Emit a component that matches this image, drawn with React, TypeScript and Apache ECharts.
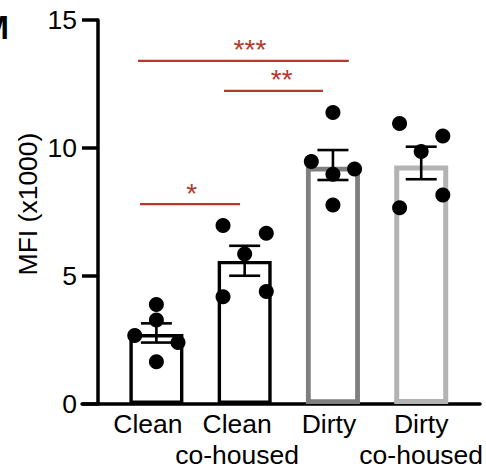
import React, { useEffect, useRef } from "react";
import * as echarts from "echarts";

const categories = ["Clean", "Clean\nco-housed", "Dirty", "Dirty\nco-housed"];
const means = [2.73, 5.59, 9.27, 9.32];
const semLow = [2.4, 5.01, 8.75, 8.78];
const semHigh = [3.15, 6.18, 9.92, 10.05];

const cleanPts = [3.89, 3.28, 2.68, 2.4, 1.65];
const cleanCoPts = [6.97, 6.67, 5.86, 4.19, 4.39];
const dirtyPts = [11.39, 9.47, 9.18, 8.97, 7.77];
const dirtyCoPts = [10.96, 10.47, 9.86, 8.16, 7.67];

const cleanJitter = [0, 0, -0.245, 0.245, 0];
const cleanCoJitter = [-0.245, 0.245, 0, -0.245, 0.245];
const dirtyJitter = [0, -0.245, 0.245, 0, 0];
const dirtyCoJitter = [-0.245, 0.245, 0, 0.245, -0.245];

const yTicks = [0, 5, 10, 15];

// significance brackets: [x start, x end, y level, star x, label]
const sigFrom = [-0.186, -0.208, 0.766];
const sigTo = [0.947, 2.18, 1.887];
const sigLevel = [7.81, 13.4, 12.23];
const sigStarX = [0.4, 1.06, 1.42];
const sigLabels = ["*", "***", "**"];

const FONT = "'Liberation Sans', Arial, Helvetica, sans-serif";
const RED = "#b2392b";
const barBorder = ["#000000", "#000000", "#7f7f7f", "#b3b3b3"];
const barBorderW = [3.4, 3.4, 4.8, 5];
const labelShift = [17, 15, 8, 0];

export default function App() {
  const ref = useRef<HTMLDivElement>(null);
  useEffect(() => {
    if (!ref.current) return;
    const chart = echarts.init(ref.current, null, { renderer: "svg" });

    const groups = [cleanPts, cleanCoPts, dirtyPts, dirtyCoPts];
    const jitters = [cleanJitter, cleanCoJitter, dirtyJitter, dirtyCoJitter];
    const points: number[][] = [];
    groups.forEach((g, i) => g.forEach((v, j) => points.push([i + jitters[i][j], v])));

    const rich: any = {};
    labelShift.forEach((s, i) => {
      rich["p" + i] = {
        fontSize: 26.5,
        fontFamily: FONT,
        color: "#000",
        lineHeight: 31,
        padding: [0, s, 0, 0],
      };
    });

    const option: any = {
      animation: false,
      backgroundColor: "#ffffff",
      grid: [
        { left: 112.25, right: 20.65, top: 20, bottom: 67, outerBoundsMode: "none", containLabel: false },
        { left: 82, right: 6, top: 20, bottom: 67, outerBoundsMode: "none", containLabel: false },
      ],
      xAxis: [
        {
          type: "category",
          gridIndex: 0,
          data: categories,
          axisLine: { show: false, onZero: false },
          axisTick: { show: false },
          axisLabel: {
            margin: 4,
            interval: 0,
            formatter: (v: string, idx: number) =>
              v.split("\n").map((l) => `{p${idx}|${l}}`).join("\n"),
            rich,
          },
        },
        {
          type: "value",
          gridIndex: 0,
          min: -0.5,
          max: 3.5,
          show: false,
          axisLine: { onZero: false },
        },
        {
          type: "value",
          gridIndex: 1,
          min: 0,
          max: 1,
          axisLine: { show: true, onZero: false, lineStyle: { color: "#000", width: 3.5 } },
          axisTick: { show: false },
          axisLabel: { show: false },
          splitLine: { show: false },
        },
      ],
      yAxis: [
        {
          type: "value",
          gridIndex: 0,
          min: yTicks[0],
          max: yTicks[yTicks.length - 1],
          interval: 5,
          offset: 14.25,
          axisLine: { show: true, onZero: false, lineStyle: { color: "#000", width: 3.5 } },
          axisTick: { show: true, length: 16, lineStyle: { color: "#000", width: 3.5 } },
          axisLabel: { fontSize: 26.5, fontFamily: FONT, color: "#000", margin: 21 },
          splitLine: { show: false },
        },
        { type: "value", gridIndex: 1, show: false, min: 0, max: 1, axisLine: { onZero: false } },
      ],
      graphic: [
        {
          type: "text",
          x: 27.5,
          y: 204,
          rotation: Math.PI / 2,
          style: {
            text: "MFI (x1000)",
            fontSize: 26.5,
            fontFamily: FONT,
            fill: "#000",
            align: "center",
            verticalAlign: "middle",
          },
        },
        {
          type: "text",
          x: -18.5,
          y: 27,
          style: {
            text: "M",
            fontSize: 33,
            fontWeight: "bold",
            fontFamily: FONT,
            fill: "#000",
            align: "left",
            verticalAlign: "middle",
          },
        },
      ],
      series: [
        {
          type: "bar",
          xAxisIndex: 0,
          yAxisIndex: 0,
          barWidth: 54,
          z: 2,
          data: means.map((m, i) => ({
            value: m,
            itemStyle: {
              color: "#ffffff",
              borderColor: barBorder[i],
              borderWidth: barBorderW[i],
            },
          })),
        },
        {
          type: "custom",
          xAxisIndex: 1,
          yAxisIndex: 0,
          z: 3,
          data: means.map((_, i) => [i, semLow[i], semHigh[i]]),
          renderItem: (params: any, api: any) => {
            const lo = api.coord([api.value(0), api.value(1)]);
            const hi = api.coord([api.value(0), api.value(2)]);
            const hw = 15.5;
            const st = { stroke: "#000", lineWidth: 2.6 };
            return {
              type: "group",
              children: [
                { type: "line", shape: { x1: lo[0], y1: lo[1], x2: hi[0], y2: hi[1] }, style: st },
                { type: "line", shape: { x1: lo[0] - hw, y1: lo[1], x2: lo[0] + hw, y2: lo[1] }, style: st },
                { type: "line", shape: { x1: hi[0] - hw, y1: hi[1], x2: hi[0] + hw, y2: hi[1] }, style: st },
              ],
            };
          },
        },
        {
          type: "scatter",
          xAxisIndex: 1,
          yAxisIndex: 0,
          z: 4,
          symbol: "circle",
          symbolSize: 15,
          itemStyle: { color: "#000", opacity: 1 },
          data: points,
        },
        {
          type: "custom",
          xAxisIndex: 1,
          yAxisIndex: 0,
          z: 5,
          clip: false,
          data: sigLabels.map((l, i) => [sigFrom[i], sigTo[i], sigLevel[i], sigStarX[i], l]),
          renderItem: (params: any, api: any) => {
            const a = api.coord([api.value(0), api.value(2)]);
            const b = api.coord([api.value(1), api.value(2)]);
            const s = api.coord([api.value(3), api.value(2)]);
            const label = sigLabels[params.dataIndex];
            return {
              type: "group",
              children: [
                {
                  type: "line",
                  shape: { x1: a[0], y1: a[1], x2: b[0], y2: b[1] },
                  style: { stroke: RED, lineWidth: 2.2 },
                },
                {
                  type: "text",
                  x: s[0],
                  y: s[1] - 11,
                  style: {
                    text: label,
                    fill: RED,
                    fontSize: 28,
                    fontFamily: FONT,
                    align: "center",
                    verticalAlign: "middle",
                  },
                },
              ],
            };
          },
        },
      ],
    };
    chart.setOption(option);
    return () => chart.dispose();
  }, []);

  return <div ref={ref} style={{ width: 486, height: 471, position: "absolute", left: 0, top: 0 }} />;
}
